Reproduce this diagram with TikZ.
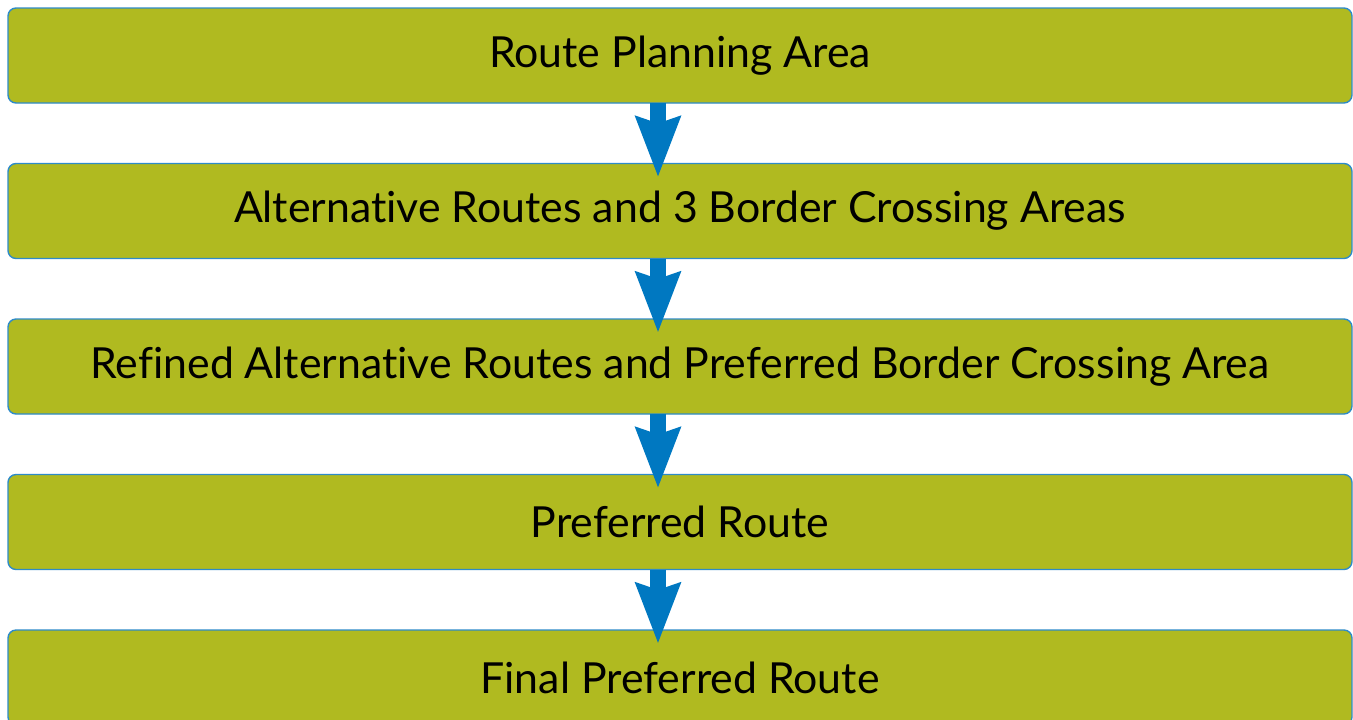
\documentclass[tikz,border=0pt]{standalone}
\usepackage{fontspec}
\setmainfont{Lato}[Ligatures=NoCommon]
\usetikzlibrary{positioning}
\usetikzlibrary{arrows.meta}
\definecolor{boxgreen}{HTML}{B0BA20}
\definecolor{edgeblue}{HTML}{2E8BC8}
\definecolor{arrowblue}{HTML}{0078C1}
\tikzset{
	stage/.style={draw=edgeblue,line width=0.7pt,fill=boxgreen,rounded corners=4pt,
		minimum width=672pt,minimum height=47.5pt,inner sep=0pt,outer sep=0pt,
		font=\fontsize{21.4}{24}\selectfont},
	flow/.style={draw=arrowblue,line width=8pt,-{Stealth[length=30pt,width=21.5pt,inset=3pt]}},
}

\begin{document}
\begin{tikzpicture}
				\useasboundingbox (0,0) rectangle (676.5pt,-359.5pt);
				
				% stages.....................
				\node [stage] (area) at (340pt,-27.75pt) {Route Planning Area};
				\node [stage, below=30.25pt of area] (alt) {Alternative Routes and 3 Border Crossing Areas};
				\node [stage, below=30.25pt of alt] (refined) {Refined Alternative Routes and Preferred Border Crossing Area};
				\node [stage, below=30.25pt of refined] (pref) {Preferred Route};
				\node [stage, below=30.25pt of pref] (final) {Final Preferred Route};
				
				% arrows between stages.......
				\draw [flow] ([xshift=-11pt]area.south) to ([xshift=-11pt,yshift=-7pt]alt.north);
				\draw [flow] ([xshift=-11pt]alt.south) to ([xshift=-11pt,yshift=-7pt]refined.north);
				\draw [flow] ([xshift=-11pt]refined.south) to ([xshift=-11pt,yshift=-7pt]pref.north);
				\draw [flow] ([xshift=-11pt]pref.south) to ([xshift=-11pt,yshift=-7pt]final.north);
			\end{tikzpicture}
\end{document}
